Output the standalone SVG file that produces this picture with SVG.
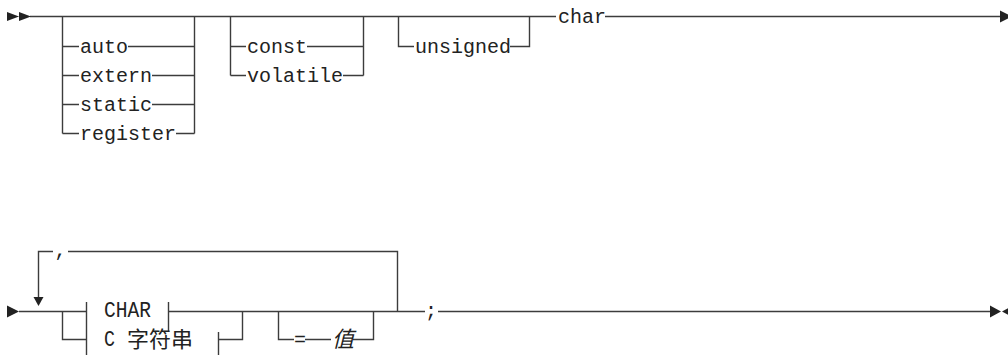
<svg xmlns="http://www.w3.org/2000/svg" width="1008" height="355" viewBox="0 0 1008 355">
<style>
.ln{fill:none;stroke:#3c3c3c;stroke-width:1.4}
.ar{fill:#222;stroke:none}
.t{font-family:"Liberation Mono","DejaVu Sans Mono",monospace;font-size:20px;fill:#222}
.tc{font-family:"Liberation Mono","DejaVu Sans Mono",monospace;font-size:22px;fill:#222}
.cjk{font-family:"Noto Sans CJK SC","Noto Sans CJK JP",sans-serif;font-size:22px;fill:#222}
</style>
<rect width="1008" height="355" fill="#fff"/>
<g id="connectors">
<path class="ln" d="M30 16.5H556 M605 16.5H1000"/>
<path class="ln" d="M62.5 16.5V133.5 M194.5 16.5V133.5"/>
<path class="ln" d="M62.5 46.5H79 M128 46.5H194.5"/>
<path class="ln" d="M62.5 75.5H79 M152 75.5H194.5"/>
<path class="ln" d="M62.5 104.5H79 M152 104.5H194.5"/>
<path class="ln" d="M62.5 133.5H79 M176 133.5H194.5"/>
<path class="ln" d="M230.5 16.5V75.5 M363.5 16.5V75.5"/>
<path class="ln" d="M230.5 46.5H246 M307 46.5H363.5"/>
<path class="ln" d="M230.5 75.5H246 M343 75.5H363.5"/>
<path class="ln" d="M398.5 16.5V46.5H414 M510 46.5H529.5V16.5"/>
<path class="ln" d="M19 311.5H86.5 M168.5 311.5H425 M438 311.5H990"/>
<path class="ln" d="M62.5 311.5V339.5H86.5"/>
<path class="ln" d="M86.5 302V355 M168.5 302V332 M218.5 332V355"/>
<path class="ln" d="M218.5 339.5H242.5V311.5"/>
<path class="ln" d="M278.5 311.5V339.5H294 M305 339.5H331 M353 339.5H373.5V311.5"/>
<path class="ln" d="M397.5 311.5V251.5H68 M53 251.5H38.5V298"/>
<path class="ar" d="M7 12L19 16.5L7 21Z M19 12L31 16.5L19 21Z"/>
<path class="ar" d="M1000 10.5L1012 16.5L1000 22.5Z"/>
<path class="ar" d="M7 305.5L19 311.5L7 317.5Z"/>
<path class="ar" d="M33.5 297L43.5 297L38.5 306Z"/>
<path class="ar" d="M990 305.5L1001 311.5L990 317.5Z M1013 305.5L1002 311.5L1013 317.5Z"/>
</g>
<g id="n-auto"><text class="t" x="80" y="53">auto</text></g>
<g id="n-extern"><text class="t" x="80" y="82">extern</text></g>
<g id="n-static"><text class="t" x="80" y="111">static</text></g>
<g id="n-register"><text class="t" x="80" y="140">register</text></g>
<g id="n-const"><text class="t" x="247" y="53">const</text></g>
<g id="n-volatile"><text class="t" x="247" y="82">volatile</text></g>
<g id="n-unsigned"><text class="t" x="415" y="53">unsigned</text></g>
<g id="n-char"><text class="t" x="558" y="23">char</text></g>
<g id="n-comma"><text class="t" x="54.5" y="256">,</text></g>
<g id="n-CHAR"><text class="tc" x="104" y="317" textLength="47" lengthAdjust="spacingAndGlyphs">CHAR</text></g>
<g id="n-cstring"><text class="tc" x="104" y="346" textLength="11" lengthAdjust="spacingAndGlyphs">C</text><text class="cjk" x="127" y="347">字符串</text></g>
<g id="n-value"><text class="t" x="294" y="346">=</text><text class="cjk" x="332" y="347" font-style="italic" font-size="20">值</text></g>
<g id="n-semicolon"><text class="t" x="425" y="317">;</text></g>
</svg>
